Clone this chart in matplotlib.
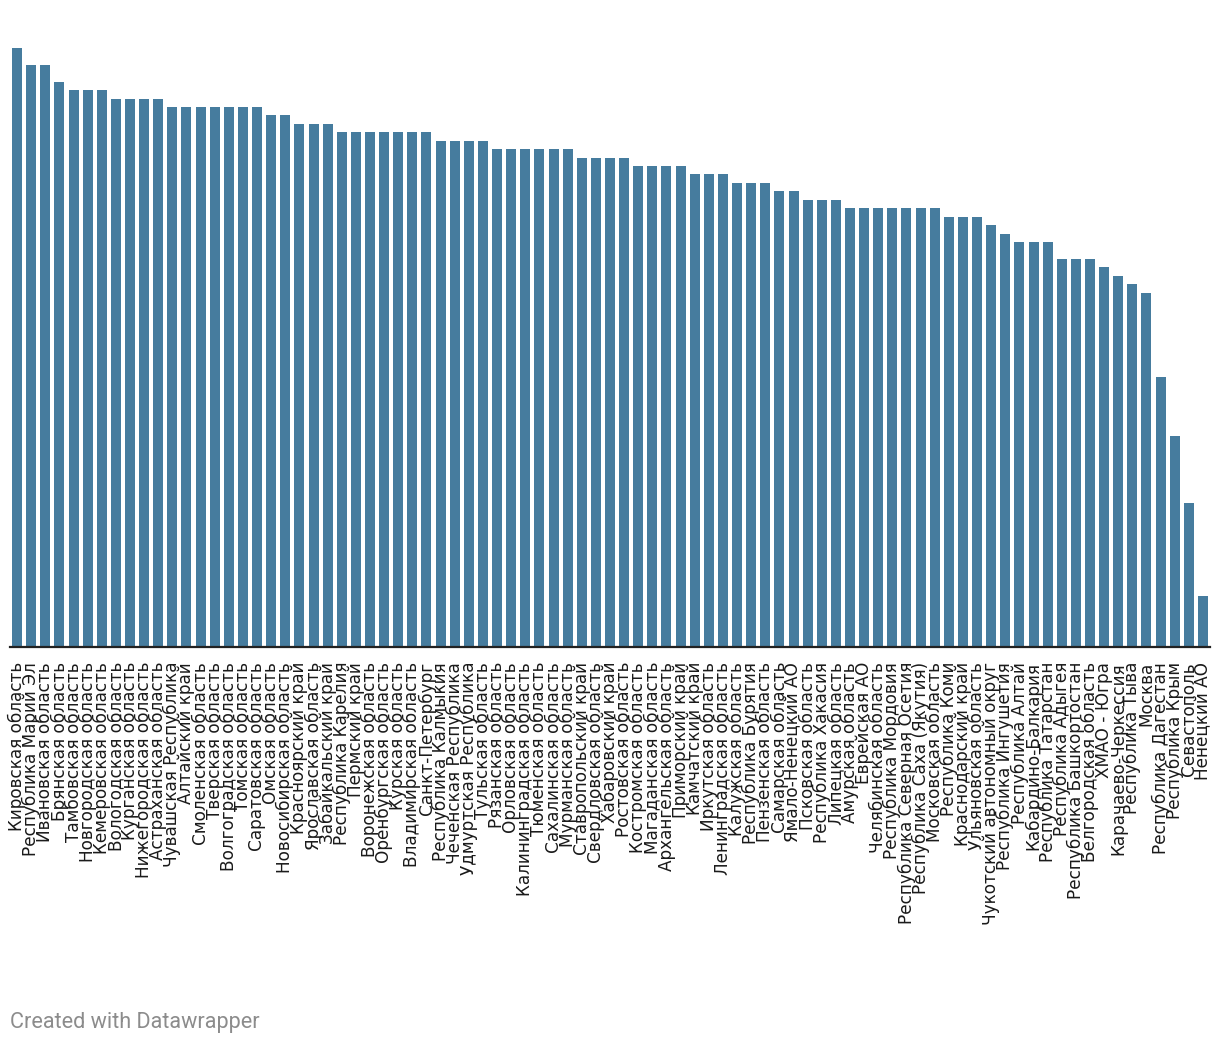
import matplotlib
matplotlib.use("Agg")
import matplotlib.pyplot as plt

regions = [
    "Кировская область", "Республика Марий Эл", "Ивановская область", "Брянская область",
    "Тамбовская область", "Новгородская область", "Кемеровская область", "Вологодская область",
    "Курганская область", "Нижегородская область", "Астраханская область", "Чувашская Республика",
    "Алтайский край", "Смоленская область", "Тверская область", "Волгоградская область",
    "Томская область", "Саратовская область", "Омская область", "Новосибирская область",
    "Красноярский край", "Ярославская область", "Забайкальский край", "Республика Карелия",
    "Пермский край", "Воронежская область", "Оренбургская область", "Курская область",
    "Владимирская область", "Санкт-Петербург", "Республика Калмыкия", "Чеченская Республика",
    "Удмуртская Республика", "Тульская область", "Рязанская область", "Орловская область",
    "Калининградская область", "Тюменская область", "Сахалинская область", "Мурманская область",
    "Ставропольский край", "Свердловская область", "Хабаровский край", "Ростовская область",
    "Костромская область", "Магаданская область", "Архангельская область", "Приморский край",
    "Камчатский край", "Иркутская область", "Ленинградская область", "Калужская область",
    "Республика Бурятия", "Пензенская область", "Самарская область", "Ямало-Ненецкий АО",
    "Псковская область", "Республика Хакасия", "Липецкая область", "Амурская область",
    "Еврейская АО", "Челябинская область", "Республика Мордовия", "Республика Северная Осетия",
    "Республика Саха (Якутия)", "Московская область", "Республика Коми", "Краснодарский край",
    "Ульяновская область", "Чукотский автономный округ", "Республика Ингушетия", "Республика Алтай",
    "Кабардино-Балкария", "Республика Татарстан", "Республика Адыгея", "Республика Башкортостан",
    "Белгородская область", "ХМАО - Югра", "Карачаево-Черкессия", "Республика Тыва",
    "Москва", "Республика Дагестан", "Республика Крым", "Севастополь", "Ненецкий АО",
]

values = [
    71, 69, 69, 67, 66, 66, 66, 65, 65, 65, 65, 64, 64, 64, 64, 64, 64, 64, 63, 63,
    62, 62, 62, 61, 61, 61, 61, 61, 61, 61, 60, 60, 60, 60, 59, 59, 59, 59, 59, 59,
    58, 58, 58, 58, 57, 57, 57, 57, 56, 56, 56, 55, 55, 55, 54, 54, 53, 53, 53, 52,
    52, 52, 52, 52, 52, 52, 51, 51, 51, 50, 49, 48, 48, 48, 46, 46, 46, 45, 44, 43,
    42, 32, 25, 17, 6,
]

W, H = 1220, 1044
fig = plt.figure(figsize=(W / 100, H / 100), dpi=100)
fig.patch.set_facecolor("white")

ax_left, ax_right = 10, 1210
ax_top, ax_bottom = 48, 646.7
ax = fig.add_axes([ax_left / W, 1 - ax_bottom / H, (ax_right - ax_left) / W, (ax_bottom - ax_top) / H])

x = list(range(len(regions)))
ax.bar(x, values, width=0.71, color="#467c9e", zorder=2)
ax.set_xlim(-0.5, len(regions) - 0.5)
ax.set_ylim(0, 71.0)

for s in ["top", "right", "left"]:
    ax.spines[s].set_visible(False)
ax.spines["bottom"].set_color("#222222")
ax.spines["bottom"].set_linewidth(1.6)
ax.spines["bottom"].set_zorder(3)
ax.set_yticks([])
ax.set_xticks(x)
ax.set_xticklabels(regions, rotation=90, fontsize=12.2, family=["DejaVu Sans"], color="#1a1a1a")
ax.tick_params(axis="x", length=0, pad=11)

fig.text(10 / W, 1 - 1028 / H, "Created with Datawrapper", fontsize=15.6, family=["Roboto", "DejaVu Sans"],
         color="#8c8c8c", ha="left", va="baseline")

fig.savefig("out.png", dpi=100, facecolor="white")
